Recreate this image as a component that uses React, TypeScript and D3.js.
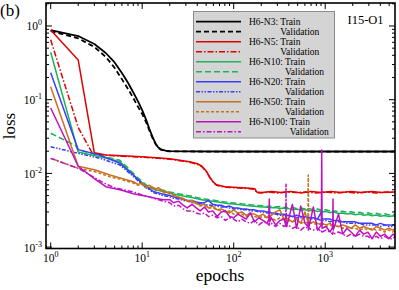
import * as d3 from 'd3'

// ---- data ----
type Pt = [number, number]

const n3Train: Pt[] = [[1, 0.88], [2, 0.73], [3, 0.57], [4, 0.43], [5, 0.32], [6, 0.23], [7, 0.17], [8, 0.125], [9, 0.095], [10, 0.072], [11, 0.054], [12, 0.04], [13, 0.031], [14, 0.0255], [15, 0.0225], [16, 0.0212], [18, 0.0203], [20, 0.02], [30, 0.0199], [100, 0.0198], [1000, 0.0198], [5790, 0.0198]]
const n3Val: Pt[] = [[1, 0.85], [2, 0.68], [3, 0.52], [4, 0.38], [5, 0.27], [6, 0.19], [7, 0.14], [8, 0.105], [9, 0.08], [10, 0.064], [11, 0.05], [12, 0.038], [13, 0.03], [14, 0.025], [15, 0.0222], [16, 0.021], [18, 0.0201], [20, 0.0199], [100, 0.0197], [5790, 0.0197]]

const n5Train: Pt[] = [[1, 0.88], [2, 0.345], [3, 0.019], [4, 0.0178], [6, 0.0173], [10, 0.0168], [20, 0.0158], [33, 0.0144], [40, 0.0135], [45, 0.0125], [50, 0.0108], [55, 0.0088], [60, 0.0076], [65, 0.007], [80, 0.0066], [100, 0.0065], [150, 0.0063], [170, 0.0062], [178, 0.0056], [200, 0.0055], [260, 0.0057], [330, 0.0055], [420, 0.0057], [550, 0.0054], [700, 0.0057], [900, 0.0055], [1150, 0.0057], [1500, 0.0055], [1900, 0.0057], [2500, 0.0055], [3200, 0.0057], [4200, 0.0055], [5790, 0.0056]]
const n5Val: Pt[] = [[1, 0.65], [2, 0.042], [2.8, 0.0195], [3, 0.0186], [4, 0.0176], [6, 0.0171], [10, 0.0166], [20, 0.0156], [33, 0.0142], [40, 0.0133], [45, 0.0123], [50, 0.0106], [55, 0.0087], [60, 0.0075], [65, 0.0069], [80, 0.0065], [100, 0.0064], [150, 0.0062], [170, 0.0061], [178, 0.0055], [200, 0.0054], [240, 0.0056], [300, 0.0054], [380, 0.0056], [480, 0.0055], [620, 0.0056], [800, 0.0054], [1000, 0.0056], [1300, 0.0054], [1700, 0.0056], [2200, 0.0054], [2800, 0.0056], [3600, 0.0054], [4700, 0.0056], [5790, 0.0055]]

// early epochs of the larger nets
const n10TrainHead: Pt[] = [[1, 0.44], [2, 0.0195], [3.46, 0.0168], [5.7, 0.0145], [6.8, 0.0117], [8.7, 0.0086], [11.2, 0.0066], [14, 0.006], [18, 0.0056]]
const n10ValHead: Pt[] = [[1, 0.035], [1.85, 0.024], [2, 0.021], [3.46, 0.0173], [5.7, 0.0151], [6.8, 0.0123], [8.7, 0.009], [11.2, 0.0069], [14, 0.0062], [18, 0.0058]]
const n20TrainHead: Pt[] = [[1, 0.232], [2, 0.021], [3.46, 0.0177], [5.7, 0.0137], [8, 0.0095], [10.3, 0.007], [13.2, 0.0057], [17, 0.0052]]
const n20ValHead: Pt[] = [[1, 0.023], [2, 0.0187], [3.46, 0.016], [5.7, 0.013], [8, 0.0091], [10.3, 0.0068], [13.2, 0.0055], [17, 0.005]]
const n50TrainHead: Pt[] = [[1, 0.15], [2, 0.0125], [3, 0.0112], [4.45, 0.0095], [6, 0.0085], [8, 0.0077], [9, 0.0071], [10, 0.0074], [11, 0.0066], [12, 0.0069], [14, 0.0061], [15, 0.0064], [17, 0.0057]]
const n50ValHead: Pt[] = [[1, 0.016], [2, 0.0117], [3, 0.0106], [4.45, 0.009], [6, 0.0082], [8, 0.0074], [9, 0.0069], [10, 0.0071], [11, 0.0064], [12, 0.0066], [14, 0.0059], [15, 0.0061], [17, 0.0055]]
const n100TrainHead: Pt[] = [[1, 0.077], [2, 0.0125], [3, 0.0085], [4, 0.0066], [6, 0.0059], [8, 0.0053], [10, 0.005], [12, 0.0048], [14, 0.0046], [17, 0.0044]]
const n100ValHead: Pt[] = [[1, 0.016], [2, 0.0117], [3, 0.0088], [3.9, 0.0073], [5, 0.0064], [8, 0.0056], [10, 0.0051], [12, 0.0048], [14, 0.0045], [17, 0.0042]]

// noisy tails, sampled at these epochs
const tailEpochs = [20, 22, 25, 28, 31, 35, 39, 43, 48, 53, 59, 66, 73, 81, 90, 100, 111, 123, 137, 152, 169, 188, 209, 232, 243, 245, 247, 258, 287, 319, 355, 370, 373, 376, 394, 438, 487, 541, 601, 647, 653, 659, 742, 825, 908, 916, 924, 1019, 1132, 1210, 1217, 1224, 1398, 1554, 1727, 1919, 2133, 2370, 2634, 2927, 3253, 3615, 4017, 4464, 4961, 5513, 5790]

const n10TrainTail = [0.0054, 0.00525, 0.0051, 0.00495, 0.00482, 0.0047, 0.00455, 0.00442, 0.00433, 0.00425, 0.00418, 0.0041, 0.00403, 0.00393, 0.00388, 0.00383, 0.00378, 0.00372, 0.00368, 0.00361, 0.00357, 0.00354, 0.0035, 0.00346, 0.00352, 0.00342, 0.0035, 0.00341, 0.00345, 0.00333, 0.00338, 0.00328, 0.0034, 0.00327, 0.00335, 0.00322, 0.00328, 0.00317, 0.00323, 0.00312, 0.00325, 0.0031, 0.00317, 0.00304, 0.00311, 0.00316, 0.00299, 0.00305, 0.00292, 0.00302, 0.00289, 0.00301, 0.00286, 0.00291, 0.00281, 0.00286, 0.00275, 0.00282, 0.0027, 0.00277, 0.00266, 0.00273, 0.00262, 0.00269, 0.00259, 0.00266, 0.00258]
const n10ValTail = [0.0056, 0.00545, 0.0053, 0.00515, 0.005, 0.00488, 0.00472, 0.0046, 0.0045, 0.00441, 0.00434, 0.00426, 0.00418, 0.00409, 0.00403, 0.00397, 0.00392, 0.00386, 0.00381, 0.00375, 0.0037, 0.00367, 0.00363, 0.00358, 0.00356, 0.00362, 0.00354, 0.00358, 0.00349, 0.00355, 0.00344, 0.0035, 0.00341, 0.00348, 0.00339, 0.00345, 0.00334, 0.0034, 0.00329, 0.00336, 0.00327, 0.00333, 0.00322, 0.00328, 0.00318, 0.00325, 0.00315, 0.00321, 0.00309, 0.00316, 0.00306, 0.00312, 0.00301, 0.00307, 0.00296, 0.00302, 0.00291, 0.00297, 0.00286, 0.00292, 0.00282, 0.00288, 0.00277, 0.00283, 0.00273, 0.00279, 0.00272]
const n20TrainTail = [0.005, 0.0048, 0.0046, 0.0045, 0.0043, 0.0043, 0.0041, 0.004, 0.004, 0.0043, 0.0038, 0.0037, 0.0037, 0.0035, 0.0036, 0.0034, 0.0034, 0.0033, 0.0033, 0.0032, 0.0032, 0.0031, 0.0031, 0.003, 0.003, 0.0035, 0.003, 0.0029, 0.0029, 0.0028, 0.0028, 0.0027, 0.0028, 0.0027, 0.0027, 0.0026, 0.0027, 0.0026, 0.0026, 0.0025, 0.0026, 0.0025, 0.0025, 0.0024, 0.003, 0.0024, 0.0024, 0.0024, 0.0024, 0.0023, 0.0023, 0.0023, 0.0023, 0.0022, 0.0022, 0.0022, 0.0022, 0.0021, 0.0021, 0.0021, 0.0021, 0.002, 0.0021, 0.002, 0.002, 0.002, 0.002]
const n20ValTail = [0.0048, 0.0046, 0.0045, 0.0043, 0.0042, 0.0041, 0.0039, 0.0039, 0.0038, 0.0037, 0.0037, 0.0036, 0.0035, 0.0035, 0.0034, 0.0033, 0.0033, 0.0032, 0.0032, 0.0031, 0.0031, 0.003, 0.003, 0.0029, 0.0029, 0.003, 0.0028, 0.0028, 0.0028, 0.0027, 0.0027, 0.0027, 0.0026, 0.0027, 0.0026, 0.0026, 0.0025, 0.0025, 0.0025, 0.0025, 0.0024, 0.0024, 0.0024, 0.0024, 0.0023, 0.0023, 0.0023, 0.0023, 0.0022, 0.0023, 0.0022, 0.0022, 0.0022, 0.0022, 0.0021, 0.0021, 0.0021, 0.0021, 0.002, 0.002, 0.002, 0.002, 0.0019, 0.002, 0.0019, 0.0019, 0.0019]
const n50TrainTail = [0.0055, 0.0051, 0.0047, 0.0046, 0.0042, 0.0043, 0.0039, 0.0037, 0.0038, 0.0034, 0.0036, 0.0032, 0.0033, 0.0031, 0.0029, 0.0032, 0.0029, 0.003, 0.0027, 0.0029, 0.0028, 0.0026, 0.0028, 0.0025, 0.0027, 0.0026, 0.0025, 0.0027, 0.003, 0.0032, 0.0024, 0.0025, 0.0023, 0.0025, 0.0024, 0.0022, 0.0024, 0.0021, 0.003, 0.0022, 0.0023, 0.0021, 0.0022, 0.0021, 0.002, 0.0022, 0.0021, 0.002, 0.0021, 0.0019, 0.0021, 0.002, 0.0019, 0.002, 0.0019, 0.0018, 0.002, 0.0018, 0.0019, 0.0018, 0.0017, 0.0019, 0.0018, 0.0017, 0.0018, 0.0017, 0.0018]
const n50ValTail = [0.0053, 0.005, 0.0048, 0.0044, 0.0043, 0.004, 0.004, 0.0036, 0.0037, 0.0034, 0.0034, 0.0032, 0.0031, 0.003, 0.0031, 0.0028, 0.0029, 0.0028, 0.0026, 0.0028, 0.0026, 0.0025, 0.0026, 0.0025, 0.0024, 0.0026, 0.0024, 0.0025, 0.0023, 0.0025, 0.0024, 0.0023, 0.0024, 0.0022, 0.0023, 0.0022, 0.0023, 0.0021, 0.0022, 0.0021, 0.0095, 0.0021, 0.0021, 0.002, 0.0021, 0.002, 0.0021, 0.0019, 0.002, 0.0019, 0.002, 0.0019, 0.0019, 0.0018, 0.0019, 0.0018, 0.0018, 0.0017, 0.0018, 0.0017, 0.0018, 0.0017, 0.0017, 0.0016, 0.0017, 0.0016, 0.0017]
const n100TrainTail = [0.0044, 0.004, 0.0042, 0.0037, 0.0034, 0.0038, 0.0034, 0.0031, 0.0035, 0.003, 0.0031, 0.0026, 0.003, 0.0031, 0.0026, 0.0025, 0.0028, 0.0026, 0.0024, 0.0029, 0.0022, 0.0025, 0.0023, 0.0021, 0.0024, 0.0045, 0.0022, 0.0025, 0.002, 0.0023, 0.0024, 0.002, 0.0022, 0.0019, 0.0023, 0.0038, 0.0018, 0.0036, 0.0021, 0.0019, 0.0022, 0.0018, 0.0035, 0.0017, 0.002, 0.0207, 0.0018, 0.0019, 0.0016, 0.0019, 0.0045, 0.0017, 0.0028, 0.0015, 0.0018, 0.0016, 0.0014, 0.0017, 0.0015, 0.0016, 0.0013, 0.0016, 0.0014, 0.0015, 0.0013, 0.0015, 0.0014]
const n100ValTail = [0.004, 0.0036, 0.0037, 0.0033, 0.0031, 0.0031, 0.0029, 0.0028, 0.0029, 0.0026, 0.0027, 0.0025, 0.0026, 0.0023, 0.0025, 0.0024, 0.0022, 0.0024, 0.0022, 0.0021, 0.0023, 0.002, 0.0022, 0.0021, 0.002, 0.0021, 0.002, 0.0021, 0.0019, 0.0021, 0.0019, 0.002, 0.0071, 0.0019, 0.002, 0.0018, 0.0019, 0.0017, 0.0019, 0.0018, 0.0017, 0.0018, 0.0017, 0.0018, 0.0016, 0.0017, 0.0016, 0.0017, 0.0016, 0.0015, 0.0016, 0.0015, 0.0016, 0.0015, 0.0014, 0.0015, 0.0014, 0.0015, 0.0014, 0.0014, 0.0013, 0.0014, 0.0013, 0.0014, 0.0013, 0.0013, 0.0014]

const join = (head: Pt[], tail: number[]): Pt[] =>
  head.concat(tailEpochs.map((e, i) => [e, tail[i]] as Pt))

const netNames = ['H6-N3', 'H6-N5', 'H6-N10', 'H6-N20', 'H6-N50', 'H6-N100']
const netColors = ['#000000', '#e00000', '#1fb25a', '#3c3cff', '#c8701e', '#c010c0']
const valDash = ['5,3', '6,2,1.5,2', '6,3', '4,1.5,1.5,1.5,1.5,1.5', '3,2', '5,2,1.5,2']
const trainData: Pt[][] = [
  n3Train, n5Train,
  join(n10TrainHead, n10TrainTail), join(n20TrainHead, n20TrainTail),
  join(n50TrainHead, n50TrainTail), join(n100TrainHead, n100TrainTail),
]
const valData: Pt[][] = [
  n3Val, n5Val,
  join(n10ValHead, n10ValTail), join(n20ValHead, n20ValTail),
  join(n50ValHead, n50ValTail), join(n100ValHead, n100ValTail),
]

const xMajor = [1, 10, 100, 1000]
const yMajor = [1, 0.1, 0.01, 0.001]
const xExp = ['0', '1', '2', '3']
const yExp = ['0', '-1', '-2', '-3']

const W = 399
const H = 290
const L = 46, R = 395, T = 3, B = 248.5
const font = "'Liberation Serif', 'Times New Roman', serif"

export default function App() {
  const x = d3.scaleLog().domain([0.889, 5790]).range([L, R])
  const y = d3.scaleLog().domain([0.000957, 2.05]).range([B, T])
  const line = d3.line<Pt>().x(d => x(d[0])).y(d => y(d[1]))

  const xMinor: number[] = []
  const yMinor: number[] = []
  for (let p = -4; p <= 4; p++) {
    for (let m = 2; m <= 9; m++) {
      const v = m * Math.pow(10, p)
      if (v > 0.889 && v < 5790) xMinor.push(v)
      if (v > 0.000957 && v < 2.05) yMinor.push(v)
    }
  }

  const legendRows = netNames.flatMap((n, i) => [
    { kind: 'train', i, name: n },
    { kind: 'val', i, name: n },
  ])

  return (
    <svg width={W} height={H} style={{ position: 'absolute', left: 0, top: 0 }}
      fontFamily={font}>
      <rect width={W} height={H} fill="#fff" />
      <defs>
        <clipPath id="plot"><rect x={L} y={T} width={R - L} height={B - T} /></clipPath>
      </defs>

      <g clipPath="url(#plot)" fill="none" strokeLinejoin="round">
        {netNames.map((n, i) => (
          <g key={n}>
            <path d={line(trainData[i]) ?? ''} stroke={netColors[i]} strokeWidth={i === 0 ? 1.8 : 1.5} />
            <path d={line(valData[i]) ?? ''} stroke={netColors[i]} strokeWidth={i === 0 ? 1.8 : 1.5}
              strokeDasharray={valDash[i]} />
          </g>
        ))}
      </g>

      {/* ticks on all four sides */}
      <g stroke="#000" strokeWidth={1}>
        {xMajor.map(v => (
          <g key={'xM' + v}>
            <line x1={x(v)} x2={x(v)} y1={B} y2={B - 6} />
            <line x1={x(v)} x2={x(v)} y1={T} y2={T + 6} />
          </g>
        ))}
        {xMinor.map(v => (
          <g key={'xm' + v}>
            <line x1={x(v)} x2={x(v)} y1={B} y2={B - 3} />
            <line x1={x(v)} x2={x(v)} y1={T} y2={T + 3} />
          </g>
        ))}
        {yMajor.map(v => (
          <g key={'yM' + v}>
            <line x1={L} x2={L + 6} y1={y(v)} y2={y(v)} />
            <line x1={R} x2={R - 6} y1={y(v)} y2={y(v)} />
          </g>
        ))}
        {yMinor.map(v => (
          <g key={'ym' + v}>
            <line x1={L} x2={L + 3} y1={y(v)} y2={y(v)} />
            <line x1={R} x2={R - 3} y1={y(v)} y2={y(v)} />
          </g>
        ))}
      </g>
      <rect x={L} y={T} width={R - L} height={B - T} fill="none" stroke="#000" strokeWidth={1.6} />

      {/* tick labels */}
      <g fontSize={11.5} fill="#000">
        {xMajor.map((v, i) => (
          <text key={'xl' + v} x={x(v)} y={262} textAnchor="middle">
            10<tspan fontSize={8} dy={-5}>{xExp[i]}</tspan>
          </text>
        ))}
        {yMajor.map((v, i) => (
          <text key={'yl' + v} x={42} y={y(v) + 4.5} textAnchor="end">
            10<tspan fontSize={8} dy={-5}>{yExp[i]}</tspan>
          </text>
        ))}
      </g>

      <text x={220} y={281} fontSize={17.5} textAnchor="middle">epochs</text>
      <text transform="translate(15,126) rotate(-90)" fontSize={17} textAnchor="middle">loss</text>
      <text x={0} y={16} fontSize={17}>(b)</text>
      <text x={347.5} y={24} fontSize={12.5}>I15-O1</text>

      {/* legend */}
      <rect x={193.5} y={11.5} width={141} height={126.5} fill="#d4d4d4" stroke="#8c8c8c" strokeWidth={1} />
      <g fontSize={9.5}>
        {legendRows.map((r, k) => {
          const ly = 21.7 + k * 10
          return (
            <g key={k}>
              <line x1={196} x2={241} y1={ly} y2={ly} stroke={netColors[r.i]}
                strokeWidth={r.i === 0 ? 1.8 : 1.5}
                strokeDasharray={r.kind === 'val' ? valDash[r.i] : undefined} />
              {r.kind === 'train' ? (
                <text x={249} y={ly + 3.5}>{r.name}: Train</text>
              ) : (
                <text x={249} y={ly + 3.5}>
                  <tspan fill="none">{r.name}: </tspan>Validation
                </text>
              )}
            </g>
          )
        })}
      </g>
    </svg>
  )
}
